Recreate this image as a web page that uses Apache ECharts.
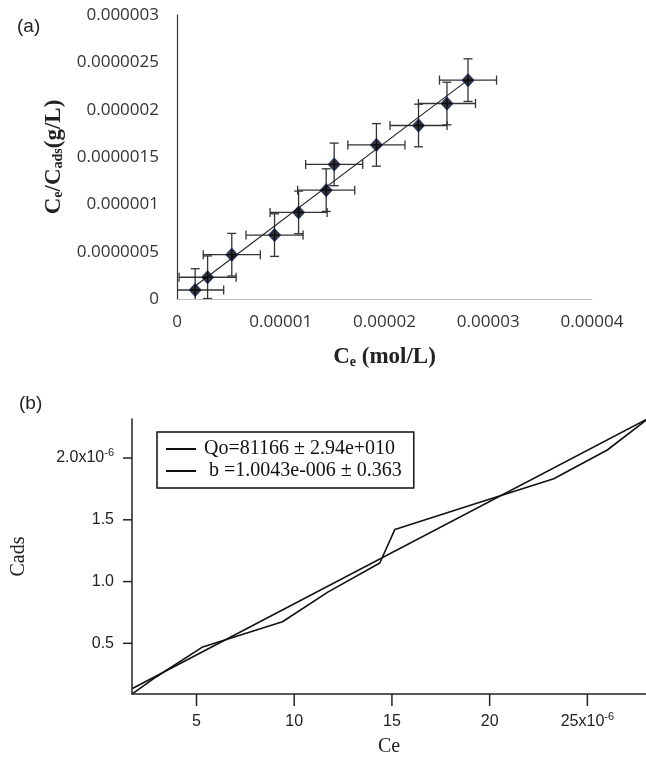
<!DOCTYPE html>
<html>
<head>
<meta charset="utf-8">
<title>Ce/Cads isotherm</title>
<script src="https://cdn.jsdelivr.net/npm/echarts@6/dist/echarts.min.js"></script>
<style>
  html, body { margin: 0; padding: 0; background: #fff; }
  #chart { width: 646px; height: 760px; }
</style>
</head>
<body>
<div id="chart"></div>
<script>
// values in units of 1e-6
var ce = [1.75, 2.95, 5.28, 9.4, 11.72, 14.38, 15.15, 19.22, 23.28, 26.02, 28.05];
var ratio = [0.095, 0.23, 0.468, 0.675, 0.915, 1.15, 1.422, 1.628, 1.833, 2.065, 2.312];
// error bar half widths (same for every point)
var errCe = 2.75;
var errRatio = 0.225;
// fitted line end points
var fitCe = [1.72, 28.05];
var fitVal = [0.135, 2.315];

// tick labels
var xLabelsA = ['0', '0.00001', '0.00002', '0.00003', '0.00004'];
var yLabelsA = ['0', '0.0000005', '0.000001', '0.0000015', '0.000002', '0.0000025', '0.000003'];
var xTicksB = [5, 10, 15, 20, 25];
var xLabelsB = ['5', '10', '15', '20', '25x10{sup|-6}'];
var yTicksB = [0.5, 1.0, 1.5, 2.0];
var yLabelsB = ['0.5', '1.0', '1.5', '2.0x10{sup|-6}'];

// panel (b) axis range (autoscaled to the data)
var xMinB = 1.7, xMaxB = 28.0;
var yMinB = 0.09, yMaxB = 2.316;

var legendNames = ['Qo=81166 \u00b1 2.94e+010', ' b =1.0043e-006 \u00b1 0.363'];

function pick(ticks, labels, v) {
    for (var i = 0; i < ticks.length; i++) {
        if (Math.abs(ticks[i] - v) < 1e-6) return labels[i];
    }
    return '';
}

var points = ce.map(function (x, i) { return [x, ratio[i]]; });

var supRich = {
    sup: { fontSize: 11, lineHeight: 11, padding: [0, 0, 11, 0], fontFamily: 'Liberation Sans', color: '#222' }
};

var chart = echarts.init(document.getElementById('chart'));
var option = {
    backgroundColor: '#fff',
    animation: false,
    title: [
        { text: '(a)', left: 12, top: 12, textStyle: { fontFamily: 'Liberation Sans', fontSize: 19, fontWeight: 'normal', color: '#222' } },
        { text: '(b)', left: 14, top: 389, textStyle: { fontFamily: 'Liberation Sans', fontSize: 19, fontWeight: 'normal', color: '#222' } }
    ],
    grid: [
        { left: 177, top: 15, width: 415, height: 284, outerBoundsMode: 'none' },
        { left: 132, top: 419, width: 514, height: 275, outerBoundsMode: 'none' }
    ],
    legend: {
        data: legendNames.map(function (n) { return { name: n, icon: 'rect' }; }),
        orient: 'vertical',
        left: 157,
        top: 432,
        padding: [7, 12, 7, 9],
        itemGap: 2,
        itemWidth: 30,
        itemHeight: 2,
        borderColor: '#111',
        borderWidth: 1.5,
        textStyle: { fontFamily: 'Liberation Serif', fontSize: 20, color: '#111', padding: [0, 0, 0, 3] }
    },
    xAxis: [
        {
            gridIndex: 0, type: 'value', min: 0, max: 40, interval: 10,
            name: '{b|C}{s|e}{b| (mol/L)}', nameLocation: 'middle', nameGap: 44,
            nameTextStyle: {
                rich: {
                    b: { fontFamily: 'Liberation Serif', fontWeight: 'bold', fontSize: 23, lineHeight: 26, color: '#222', verticalAlign: 'bottom' },
                    s: { fontFamily: 'Liberation Serif', fontWeight: 'bold', fontSize: 14, lineHeight: 18, color: '#222', verticalAlign: 'bottom' }
                }
            },
            axisLine: { lineStyle: { color: '#bdbdbd', width: 1.2 } },
            axisTick: { show: false },
            splitLine: { show: false },
            axisLabel: {
                margin: 15, fontFamily: 'Open Sans', fontSize: 17, color: '#333',
                formatter: function (v) { return xLabelsA[Math.round(v / 10)]; }
            }
        },
        {
            gridIndex: 1, type: 'value', min: xMinB, max: xMaxB,
            name: 'Ce', nameLocation: 'middle', nameGap: 43,
            nameTextStyle: { fontFamily: 'Liberation Serif', fontSize: 20, color: '#222' },
            axisLine: { lineStyle: { color: '#222', width: 1.5 } },
            axisTick: { show: false },
            splitLine: { show: false },
            axisLabel: {
                margin: 20, fontFamily: 'Liberation Sans', fontSize: 16, color: '#222',
                customValues: xTicksB,
                rich: supRich,
                formatter: function (v) { return pick(xTicksB, xLabelsB, v); }
            }
        }
    ],
    yAxis: [
        {
            gridIndex: 0, type: 'value', min: 0, max: 3, interval: 0.5,
            name: '{b|C}{s|e}{b|/C}{s|ads}{b|(g/L)}', nameLocation: 'middle', nameGap: 110, nameRotate: 90,
            nameTextStyle: {
                rich: {
                    b: { fontFamily: 'Liberation Serif', fontWeight: 'bold', fontSize: 23, lineHeight: 26, color: '#222', verticalAlign: 'bottom' },
                    s: { fontFamily: 'Liberation Serif', fontWeight: 'bold', fontSize: 14, lineHeight: 18, color: '#222', verticalAlign: 'bottom' }
                }
            },
            axisLine: { show: true, lineStyle: { color: '#333', width: 1.2 } },
            axisTick: { show: false },
            splitLine: { show: false },
            axisLabel: {
                margin: 18, fontFamily: 'Open Sans', fontSize: 17, color: '#333',
                formatter: function (v) { return yLabelsA[Math.round(v / 0.5)]; }
            }
        },
        {
            gridIndex: 1, type: 'value', min: yMinB, max: yMaxB,
            name: 'Cads', nameLocation: 'middle', nameGap: 103, nameRotate: 90,
            nameTextStyle: { fontFamily: 'Liberation Serif', fontSize: 20, color: '#222' },
            axisLine: { show: true, lineStyle: { color: '#222', width: 1.5 } },
            axisTick: { show: false },
            splitLine: { show: false },
            axisLabel: {
                margin: 18, fontFamily: 'Liberation Sans', fontSize: 16, color: '#222',
                customValues: yTicksB,
                rich: supRich,
                formatter: function (v) { return pick(yTicksB, yLabelsB, v); }
            }
        }
    ],
    series: [
        {
            // error bars
            type: 'custom', xAxisIndex: 0, yAxisIndex: 0, clip: true, z: 2,
            data: points,
            renderItem: function (params, api) {
                var x = api.value(0), y = api.value(1);
                var l = api.coord([x - errCe, y]);
                var r = api.coord([x + errCe, y]);
                var t = api.coord([x, y + errRatio]);
                var b = api.coord([x, y - errRatio]);
                var cap = 4.5;
                var st = { stroke: '#333', lineWidth: 1.3 };
                return {
                    type: 'group',
                    children: [
                        { type: 'line', shape: { x1: l[0], y1: l[1], x2: r[0], y2: r[1] }, style: st },
                        { type: 'line', shape: { x1: l[0], y1: l[1] - cap, x2: l[0], y2: l[1] + cap }, style: st },
                        { type: 'line', shape: { x1: r[0], y1: r[1] - cap, x2: r[0], y2: r[1] + cap }, style: st },
                        { type: 'line', shape: { x1: t[0], y1: t[1], x2: b[0], y2: b[1] }, style: st },
                        { type: 'line', shape: { x1: t[0] - cap, y1: t[1], x2: t[0] + cap, y2: t[1] }, style: st },
                        { type: 'line', shape: { x1: b[0] - cap, y1: b[1], x2: b[0] + cap, y2: b[1] }, style: st }
                    ]
                };
            }
        },
        {
            // trend line (a)
            type: 'line', xAxisIndex: 0, yAxisIndex: 0, z: 3,
            data: [[fitCe[0], fitVal[0]], [fitCe[1], fitVal[1]]],
            symbol: 'none',
            lineStyle: { color: '#222', width: 1.1 }
        },
        {
            type: 'scatter', xAxisIndex: 0, yAxisIndex: 0, z: 4,
            data: points,
            symbol: 'diamond', symbolSize: [12, 13],
            itemStyle: { color: '#000', borderColor: '#1c2a66', borderWidth: 1 }
        },
        {
            name: legendNames[0],
            type: 'line', xAxisIndex: 1, yAxisIndex: 1,
            data: points,
            symbol: 'none',
            lineStyle: { color: '#111', width: 1.6 },
            itemStyle: { color: '#111' }
        },
        {
            name: legendNames[1],
            type: 'line', xAxisIndex: 1, yAxisIndex: 1,
            data: [[fitCe[0], fitVal[0]], [fitCe[1], fitVal[1]]],
            symbol: 'none',
            lineStyle: { color: '#111', width: 1.6 },
            itemStyle: { color: '#111' }
        }
    ]
};
chart.setOption(option);

// outward ticks for panel (b), placed through the axis scales
var tickEls = [];
xTicksB.forEach(function (v) {
    var p = chart.convertToPixel({ gridIndex: 1 }, [v, yMinB]);
    tickEls.push({
        type: 'line', z: 100, silent: true,
        shape: { x1: p[0], y1: p[1], x2: p[0], y2: p[1] + 12 },
        style: { stroke: '#222', lineWidth: 1.5 }
    });
});
yTicksB.forEach(function (v) {
    var p = chart.convertToPixel({ gridIndex: 1 }, [xMinB, v]);
    tickEls.push({
        type: 'line', z: 100, silent: true,
        shape: { x1: p[0] - 9, y1: p[1], x2: p[0], y2: p[1] },
        style: { stroke: '#222', lineWidth: 1.5 }
    });
});
chart.setOption({ graphic: { elements: tickEls } });
</script>
</body>
</html>
